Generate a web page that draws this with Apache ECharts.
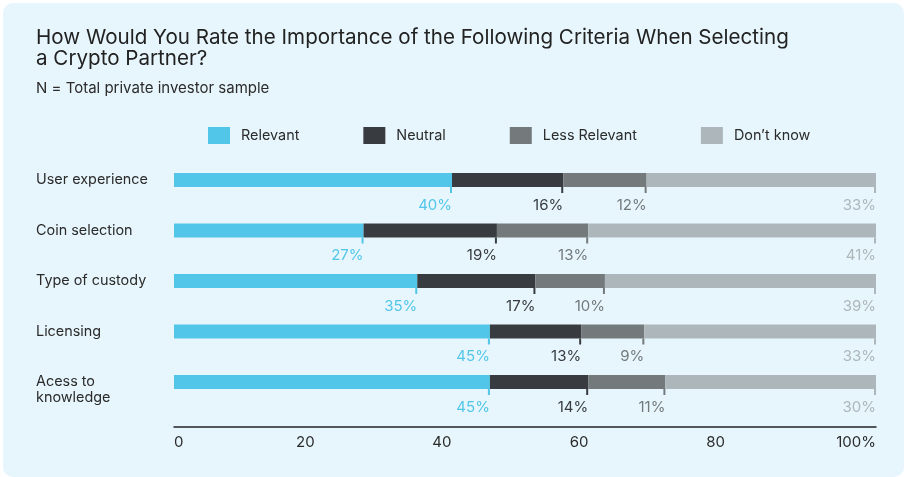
<!DOCTYPE html>
<html>
<head>
<meta charset="utf-8">
<script src="https://cdn.jsdelivr.net/npm/echarts@6/dist/echarts.min.js"></script>
<style>
  html, body { margin: 0; padding: 0; background: #fff; }
  #chart {
    position: absolute; left: 3px; top: 3px;
    width: 901px; height: 474px;
    background: #e7f6fc; border-radius: 10px;
  }
</style>
</head>
<body>
<div id="chart"></div>
<script>
  // 数据
  var categories = ['User experience', 'Coin selection', 'Type of custody', 'Licensing', 'Acess to\nknowledge'];
  var relevant = [40, 27, 35, 45, 45];
  var neutral = [16, 19, 17, 13, 14];
  var lessRelevant = [12, 13, 10, 9, 11];
  var dontKnow = [33, 41, 39, 33, 30];
  var xTicks = [0, 20, 40, 60, 80, 100];

  var seriesNames = ['Relevant', 'Neutral', 'Less Relevant', 'Don’t know'];
  var colors = ['#52c6e9', '#383c40', '#747a7c', '#adb7bb'];
  var rows = [relevant, neutral, lessRelevant, dontKnow];

  // 每行总和（有的行加起来是101），条形按100%归一
  var sums = categories.map(function (c, i) {
    return rows.reduce(function (s, r) { return s + r[i]; }, 0);
  });

  var fontFamily = 'Inter, "Noto Sans", sans-serif';

  var series = rows.map(function (raw, k) {
    return {
      name: seriesNames[k],
      type: 'bar',
      stack: 'total',
      barWidth: 14,
      itemStyle: {color: colors[k]},
      data: raw.map(function (v, i) {
        return {value: v / sums[i] * 100, raw: v};
      }),
      label: {
        show: true,
        position: ['100%', '100%'],
        align: 'right',
        verticalAlign: 'top',
        formatter: function (p) {
          return '{t|}\n{v|' + p.data.raw + '%}';
        },
        rich: {
          t: {width: 2, height: 6, lineHeight: 6, backgroundColor: colors[k]},
          v: {fontSize: 15, lineHeight: 24, color: colors[k], fontFamily: fontFamily}
        }
      },
      animation: false
    };
  });

  // x轴标签略微左移
  var shift = {20: 18, 40: 26, 60: 32, 80: 40};

  var myChart = echarts.init(document.getElementById('chart'), null, {renderer: 'canvas'});
  myChart.setOption({
    backgroundColor: 'transparent',
    animation: false,
    title: [
      {
        text: 'How Would You Rate the Importance of the Following Criteria When Selecting\na Crypto Partner?',
        left: 33, top: 24, padding: 0,
        textStyle: {fontSize: 20.6, lineHeight: 21, fontWeight: 'normal', color: '#222', fontFamily: fontFamily}
      },
      {
        text: 'N = Total private investor sample',
        left: 33, top: 76, padding: 0,
        textStyle: {fontSize: 15, lineHeight: 18, fontWeight: 'normal', color: '#2b2b2b', fontFamily: fontFamily}
      }
    ],
    legend: {
      left: 205, top: 124, padding: 0,
      icon: 'rect',
      itemWidth: 22, itemHeight: 17, itemGap: 64,
      data: seriesNames,
      textStyle: {fontSize: 14.4, color: '#2b2b2b', fontFamily: fontFamily, padding: [0, 0, 0, 6]}
    },
    grid: {left: 171, right: 28, top: 151.75, height: 252.5, containLabel: false},
    xAxis: {
      type: 'value',
      min: 0, max: 100, interval: 20,
      offset: 19,
      splitLine: {show: false},
      axisTick: {show: false},
      axisLine: {show: true, lineStyle: {color: '#222', width: 1.5}},
      axisLabel: {
        margin: 9,
        alignMinLabel: 'left',
        alignMaxLabel: 'right',
        color: '#2b2b2b', fontSize: 15, fontFamily: fontFamily,
        formatter: function (v) {
          if (v === 100) return '100%';
          if (shift[v]) return '{s' + v + '|' + v + '}';
          return '' + v;
        },
        rich: {
          s20: {padding: [0, shift[20], 0, 0], fontSize: 15, color: '#2b2b2b', fontFamily: fontFamily},
          s40: {padding: [0, shift[40], 0, 0], fontSize: 15, color: '#2b2b2b', fontFamily: fontFamily},
          s60: {padding: [0, shift[60], 0, 0], fontSize: 15, color: '#2b2b2b', fontFamily: fontFamily},
          s80: {padding: [0, shift[80], 0, 0], fontSize: 15, color: '#2b2b2b', fontFamily: fontFamily}
        }
      }
    },
    yAxis: {
      type: 'category',
      inverse: true,
      data: categories,
      axisLine: {show: false},
      axisTick: {show: false},
      axisLabel: {
        align: 'left',
        verticalAlign: 'middle',
        margin: 138,
        lineHeight: 16,
        color: '#2b2b2b', fontSize: 14.4, fontFamily: fontFamily,
        formatter: function (v) {
          return v.indexOf('\n') >= 0 ? '\n' + v : v;
        }
      }
    },
    series: series
  });
</script>
</body>
</html>
